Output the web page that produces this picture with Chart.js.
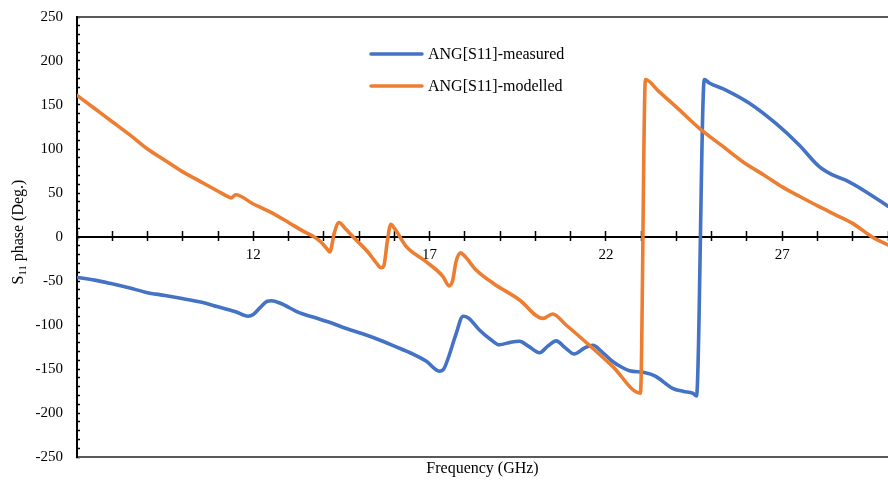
<!DOCTYPE html>
<html>
<head>
<meta charset="utf-8">
<script src="https://cdn.jsdelivr.net/npm/chart.js@4.4.1/dist/chart.umd.min.js"></script>
<style>
  html, body { margin: 0; padding: 0; background: #ffffff; }
  canvas { display: block; }
</style>
</head>
<body>
<canvas id="phaseChart" width="888" height="481" style="width:888px;height:481px"></canvas>
<script>
// S11 phase versus frequency: measured and modelled
const seriesNames = ['ANG[S11]-measured', 'ANG[S11]-modelled'];
const seriesColors = ['#4472C4', '#ED7D31'];

const freqMeasured = [
  7.0, 7.5, 7.93, 8.5, 8.97, 9.5, 9.98, 10.5, 10.97, 11.5, 11.85, 12.0, 12.2, 12.4, 12.52,
  12.75, 13.3, 13.69, 14.2, 14.64, 15.1, 15.58, 16.0, 16.53, 16.9, 17.28, 17.4, 17.55, 17.75,
  17.95, 18.1, 18.42, 18.75, 18.98, 19.3, 19.55, 19.8, 20.12, 20.35, 20.59, 20.85, 21.1, 21.4,
  21.63, 21.9, 22.19, 22.45, 22.67, 23.09, 23.4, 23.89, 24.2, 24.46, 24.57, 24.79, 24.93, 25.4,
  26.07, 26.82, 27.48, 28.05, 28.43, 28.8, 29.37, 30.0
];
const phaseMeasured = [
  -46, -49, -52.6, -58, -63, -66.5, -70, -74, -79, -85, -90, -88, -80, -73, -72.5,
  -75, -86, -91, -97.5, -104, -110, -117, -124, -133, -141, -152.5, -150, -135, -110,
  -90, -92, -106, -117, -122.5, -119.5, -118.5, -124, -131.5, -124, -118, -126, -133, -126,
  -123, -131, -141.5, -148, -152, -154, -158, -172, -175.5, -177.5, -180.5, 179, 175, 167,
  152, 129, 104.5, 80, 70.5, 64.5, 51.5, 35
];

const freqModelled = [
  7.0, 7.5, 8.0, 8.5, 9.0, 9.5, 10.0, 10.5, 11.0, 11.3, 11.38, 11.5, 12.0, 12.5, 13.0, 13.4,
  13.69, 13.9, 14.1, 14.17, 14.3, 14.43, 14.6, 14.92, 15.25, 15.5, 15.62, 15.7, 15.8, 15.9,
  16.0, 16.34, 16.9, 17.38, 17.55, 17.65, 17.75, 17.88, 18.0, 18.32, 18.8, 19.55, 20.21,
  20.49, 20.87, 21.53, 22.19, 22.98, 23.12, 23.5, 24.0, 24.65, 25.3, 25.88, 26.5, 27.0, 27.5,
  28.05, 28.5, 29.0, 29.55, 30.0
];
const phaseModelled = [
  161, 146, 131, 116, 100, 87, 74, 63, 52, 45.5, 44.5, 48, 37.5, 28, 16.5, 7,
  1, -5, -14, -17, 5, 16.5, 10, -3.4, -17, -30, -35, -33, -5, 14.5,
  10, -11, -28, -45, -55.5, -50, -28, -18, -22, -37.5, -52.5, -71.5, -92.5,
  -87.5, -100, -123, -147, -177.5, 179, 165.5, 147.5, 123.5, 103.5, 85.6, 70, 57, 46,
  34.4, 25.5, 15.5, 0, -9
];

const xTickLabels = [12, 17, 22, 27];
const yTickLabels = [-250, -200, -150, -100, -50, 0, 50, 100, 150, 200, 250];

const FONT = "'Liberation Serif', 'Times New Roman', serif";
Chart.defaults.font.family = FONT;
Chart.defaults.font.size = 15;
Chart.defaults.color = '#000000';

const toPoints = (xs, ys) => xs.map((x, i) => ({ x: x, y: ys[i] }));

// Keep every axis box to its fixed size, without extra label padding
const fixedBox = (w, h) => function (s) {
  if (w !== null) s.width = w;
  if (h !== null) s.height = h;
  s.paddingTop = 0; s.paddingBottom = 0; s.paddingLeft = 0; s.paddingRight = 0;
};

// Rotated y-axis title with a subscript
const yTitlePlugin = {
  id: 'yTitle',
  afterDraw(chart) {
    const ctx = chart.ctx;
    const area = chart.chartArea;
    const main = "16px " + FONT;
    const sub = "10.5px " + FONT;
    ctx.save();
    ctx.font = main; const wS = ctx.measureText('S').width;
    const wRest = ctx.measureText(' phase (Deg.)').width;
    ctx.font = sub; const wSub = ctx.measureText('11').width;
    const total = wS + wSub + wRest;
    ctx.translate(23, (area.top + area.bottom) / 2 - 5);
    ctx.rotate(-Math.PI / 2);
    ctx.fillStyle = '#000000';
    ctx.textBaseline = 'alphabetic';
    ctx.textAlign = 'left';
    let x = -total / 2;
    ctx.font = main; ctx.fillText('S', x, 0); x += wS;
    ctx.font = sub; ctx.fillText('11', x, 3); x += wSub;
    ctx.font = main; ctx.fillText(' phase (Deg.)', x, 0);
    ctx.restore();
  }
};

// Legend drawn inside the plot area
const innerLegend = {
  id: 'innerLegend',
  afterDatasetsDraw(chart) {
    const ctx = chart.ctx;
    const rows = [54, 86];
    ctx.save();
    chart.data.datasets.forEach((ds, i) => {
      const y = rows[i];
      ctx.strokeStyle = ds.borderColor;
      ctx.lineWidth = 3.5;
      ctx.lineCap = 'round';
      ctx.beginPath();
      ctx.moveTo(371, y);
      ctx.lineTo(422, y);
      ctx.stroke();
      ctx.fillStyle = '#000000';
      ctx.font = "16px " + FONT;
      ctx.textBaseline = 'middle';
      ctx.textAlign = 'left';
      ctx.fillText(ds.label, 428, y + 1);
    });
    ctx.restore();
  }
};

const frameX = { min: 7, max: 30, type: 'linear' };

new Chart(document.getElementById('phaseChart'), {
  type: 'line',
  data: {
    datasets: [
      {
        label: seriesNames[0],
        data: toPoints(freqMeasured, phaseMeasured),
        borderColor: seriesColors[0],
        backgroundColor: seriesColors[0],
        borderWidth: 3.6,
        pointRadius: 0,
        cubicInterpolationMode: 'monotone',
        borderJoinStyle: 'round',
        borderCapStyle: 'round',
        order: 1
      },
      {
        label: seriesNames[1],
        data: toPoints(freqModelled, phaseModelled),
        borderColor: seriesColors[1],
        backgroundColor: seriesColors[1],
        borderWidth: 3.6,
        pointRadius: 0,
        cubicInterpolationMode: 'monotone',
        borderJoinStyle: 'round',
        borderCapStyle: 'round',
        order: 0
      }
    ]
  },
  options: {
    responsive: false,
    animation: false,
    layout: { padding: 0 },
    plugins: {
      legend: { display: false },
      tooltip: { enabled: false }
    },
    scales: {
      x: {
        ...frameX,
        position: { y: 0 },
        afterFit: fixedBox(null, 0),
        ticks: {
          stepSize: 1, maxTicksLimit: 100, autoSkip: false, maxRotation: 0, padding: 6,
          color: '#000000', font: { size: 15 },
          callback: v => xTickLabels.includes(v) ? String(v) : ''
        },
        grid: { drawOnChartArea: false, tickLength: 3, tickColor: '#000000', tickWidth: 1.5 },
        border: { display: true, color: '#000000', width: 2 }
      },
      xUp: {
        ...frameX,
        position: { y: 0 },
        afterFit: fixedBox(null, 0),
        ticks: { stepSize: 1, maxTicksLimit: 100, autoSkip: false, display: false },
        grid: { drawOnChartArea: false, tickLength: -6, tickColor: '#000000', tickWidth: 1.5 },
        border: { display: false }
      },
      xTop: {
        ...frameX,
        position: 'top',
        afterFit: fixedBox(null, 17),
        ticks: { display: false },
        grid: { display: false, drawTicks: false },
        border: { display: true, color: '#595959', width: 2 }
      },
      xBottom: {
        ...frameX,
        position: 'bottom',
        afterFit: fixedBox(null, 24),
        ticks: { display: false },
        grid: { display: false, drawTicks: false },
        border: { display: true, color: '#595959', width: 2 },
        title: {
          display: true,
          text: 'Frequency (GHz)',
          color: '#000000',
          font: { size: 16 },
          padding: { top: 0, bottom: 3 }
        }
      },
      y: {
        type: 'linear',
        min: -250,
        max: 250,
        position: 'left',
        afterFit: fixedBox(77, null),
        ticks: {
          stepSize: 10, maxTicksLimit: 100, autoSkip: false, padding: 17,
          color: '#000000', font: { size: 15 },
          callback: v => yTickLabels.includes(v) ? String(v) : ''
        },
        grid: { drawOnChartArea: false, tickLength: -3, tickColor: '#000000', tickWidth: 1.5 },
        border: { display: true, color: '#000000', width: 2 }
      }
    }
  },
  plugins: [yTitlePlugin, innerLegend]
});
</script>
</body>
</html>
